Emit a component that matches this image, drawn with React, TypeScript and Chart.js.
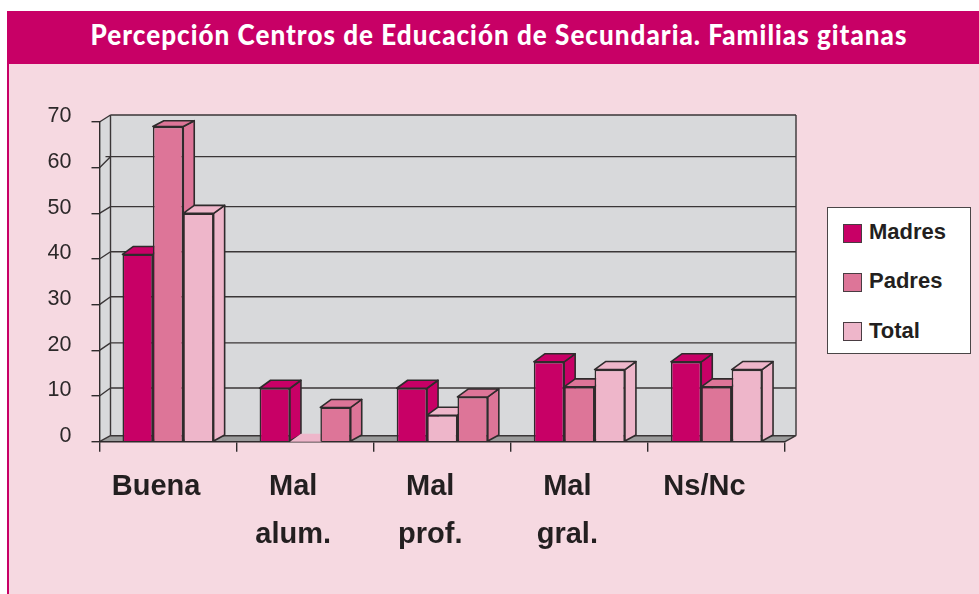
import React, { useEffect, useRef } from "react";
import { Chart, registerables } from "chart.js";

Chart.register(...registerables);

const TITLE = "Percepción Centros de Educación de Secundaria. Familias gitanas";
const categories = [["Buena"], ["Mal", "alum."], ["Mal", "prof."], ["Mal", "gral."], ["Ns/Nc"]];
const seriesNames = ["Madres", "Padres", "Total"];
const madres = [41, 11.7, 11.7, 17.5, 17.5];
const padres = [69, 0, 5.8, 12, 12];
const total = [50, 7.5, 9.8, 15.8, 15.8];

const MAGENTA = "#c80066";
const ROSE = "#dd7598";
const BLUSH = "#eeb6ca";
const INK = "#2f2b2c";
const madresColors = [MAGENTA, MAGENTA, MAGENTA, MAGENTA, MAGENTA];
const padresColors = [ROSE, BLUSH, BLUSH, ROSE, ROSE];
const totalColors = [BLUSH, ROSE, ROSE, BLUSH, BLUSH];
const legendColors = [MAGENTA, ROSE, BLUSH];

const DEPTH_X = 11;
const DEPTH_Y = 8;
const BASE_DEPTH_Y = 6;
const TOP_LIMIT = 120.7;
// how far each wall gridline rises from its front tick
const wallRise: Record<number, number> = { 0: 6, 10: 8, 20: 7.5, 30: 7.9, 40: 7.3, 50: 6.7, 60: 11, 70: 7 };

function poly(ctx: CanvasRenderingContext2D, pts: number[][], fill: string, stroke: boolean) {
  ctx.beginPath();
  pts.forEach((p, i) => (i ? ctx.lineTo(p[0], p[1]) : ctx.moveTo(p[0], p[1])));
  ctx.closePath();
  ctx.fillStyle = fill;
  ctx.fill();
  if (stroke) {
    ctx.strokeStyle = INK;
    ctx.lineWidth = 1.6;
    ctx.lineJoin = "round";
    ctx.stroke();
  }
}

const wallPlugin = {
  id: "wall",
  beforeDraw(chart: any) {
    const { ctx, scales } = chart;
    const y = scales.y;
    const L = scales.x.left;
    const R = scales.x.right;
    const y0 = y.getPixelForValue(0);
    const y70 = y.getPixelForValue(70);
    ctx.save();
    poly(ctx, [[L, y70], [L + DEPTH_X, y70 - wallRise[70]], [L + DEPTH_X, y0 - wallRise[0]], [L, y0]], "#d8d9db", false);
    poly(ctx, [[L + DEPTH_X, y70 - wallRise[70]], [R + DEPTH_X, y70 - wallRise[70]], [R + DEPTH_X, y0 - wallRise[0]], [L + DEPTH_X, y0 - wallRise[0]]], "#d8d9db", false);
    poly(ctx, [[L, y0], [L + DEPTH_X, y0 - wallRise[0]], [R + DEPTH_X, y0 - wallRise[0]], [R, y0]], "#9a9b9b", false);
    ctx.strokeStyle = "#3a3637";
    ctx.lineWidth = 1.4;
    ctx.beginPath();
    for (const t of y.ticks) {
      const py = y.getPixelForValue(t.value);
      const rise = wallRise[t.value] ?? DEPTH_Y;
      ctx.moveTo(L, py);
      ctx.lineTo(L + DEPTH_X, py - rise);
      ctx.moveTo(t.value === 60 ? L + 6 : L + DEPTH_X, py - rise);
      ctx.lineTo(R + DEPTH_X, py - rise);
    }
    ctx.moveTo(L + DEPTH_X, y70 - wallRise[70]);
    ctx.lineTo(L + DEPTH_X, y0 - wallRise[0]);
    ctx.moveTo(R + DEPTH_X, y70 - wallRise[70]);
    ctx.lineTo(R + DEPTH_X, y0 - wallRise[0]);
    ctx.moveTo(R, y0);
    ctx.lineTo(R + DEPTH_X, y0 - wallRise[0]);
    ctx.stroke();
    ctx.restore();
  },
  beforeDatasetsDraw(chart: any) {
    const { ctx } = chart;
    ctx.save();
    chart.data.datasets.forEach((ds: any, di: number) => {
      const meta = chart.getDatasetMeta(di);
      meta.data.forEach((bar: any, i: number) => {
        const p = bar.getProps(["x", "y", "base", "width"], true);
        const left = p.x - p.width / 2;
        const right = p.x + p.width / 2;
        const color = ds.backgroundColor[i];
        const solid = ds.data[i] > 0;
        const rise = Math.min(DEPTH_Y, p.y - TOP_LIMIT);
        poly(ctx, [[right, p.y], [right + DEPTH_X, p.y - rise], [right + DEPTH_X, p.base - BASE_DEPTH_Y], [right, p.base]], color, solid);
        poly(ctx, [[left, p.y], [left + DEPTH_X, p.y - rise], [right + DEPTH_X, p.y - rise], [right, p.y]], color, solid);
        if (solid) bar.draw(ctx);
      });
    });
    ctx.restore();
    return false;
  },
};

export default function App() {
  const ref = useRef<HTMLCanvasElement>(null);
  useEffect(() => {
    document.body.style.margin = "0";
    const series = [madres, padres, total];
    const colors = [madresColors, padresColors, totalColors];
    const chart = new Chart(ref.current as HTMLCanvasElement, {
      type: "bar",
      data: {
        labels: categories as any,
        datasets: seriesNames.map((name, i) => ({
          label: name,
          data: series[i],
          backgroundColor: colors[i],
          borderColor: INK,
          borderWidth: 1.6,
        })),
      },
      options: {
        responsive: false,
        animation: false,
        events: [],
        layout: { padding: { left: 0, top: 122, right: 194, bottom: 0 } },
        plugins: { legend: { display: false }, title: { display: false }, tooltip: { enabled: false } },
        datasets: { bar: { categoryPercentage: 0.665, barPercentage: 1 } },
        scales: {
          x: {
            afterFit(s: any) { s.height = 152.3; },
            border: { color: INK, width: 1.4 },
            grid: { display: true, drawOnChartArea: false, drawTicks: true, tickLength: 10, color: INK, lineWidth: 1.4 },
            ticks: {
              color: "#231f20",
              maxRotation: 0,
              padding: 11.5,
              labelOffset: -12,
              font: { family: "'Liberation Sans'", size: 29, weight: "bold", lineHeight: 1.655 },
            },
          },
          y: {
            min: 0,
            max: 70,
            afterFit(s: any) { s.width = 99.5; },
            border: { color: INK, width: 1.4 },
            grid: { display: true, drawOnChartArea: false, drawTicks: true, tickLength: 8, color: INK, lineWidth: 1.4 },
            ticks: {
              stepSize: 10,
              color: "#2c2829",
              padding: 20,
              labelOffset: -5.5,
              font: { family: "'Liberation Sans'", size: 21.5 },
            },
          },
        },
      } as any,
      plugins: [wallPlugin as any],
    });
    return () => chart.destroy();
  }, []);

  return (
    <div style={{ position: "absolute", left: 0, top: 0, width: 979, height: 594, background: "#fff", overflow: "hidden" }}>
      <div style={{ position: "absolute", left: 7, top: 64, width: 972, height: 530, background: "#f6d9e1", borderLeft: `2px solid ${MAGENTA}`, boxSizing: "border-box" }} />
      <div style={{ position: "absolute", left: 7, top: 11, width: 972, height: 53, background: MAGENTA }}>
        <div
          style={{
            position: "absolute", left: 492, top: 0, transform: "translateX(-50%) scaleX(0.93)", color: "#fff",
            fontFamily: "Lato, sans-serif", fontWeight: 900, fontSize: 28,
            letterSpacing: 1.1, lineHeight: "47px", whiteSpace: "nowrap",
          }}
        >
          {TITLE}
        </div>
      </div>
      <canvas ref={ref} width={979} height={594} style={{ position: "absolute", left: 0, top: 0, display: "block" }} />
      <div style={{ position: "absolute", left: 827, top: 207, width: 144, height: 147, background: "#fff", border: "1.4px solid #4a4647", boxSizing: "border-box" }}>
        {seriesNames.map((name, i) => (
          <div key={name} style={{ position: "absolute", left: 15, top: 15 + i * 49.3, height: 20, display: "flex", alignItems: "center" }}>
            <span style={{ width: 19, height: 19, background: legendColors[i], border: "1.4px solid #4a3c42", boxSizing: "border-box", display: "inline-block" }} />
            <span style={{ marginLeft: 7, fontFamily: "'Liberation Sans'", fontWeight: "bold", fontSize: 22, color: "#231f20", lineHeight: "20px", position: "relative", top: -1 }}>{name}</span>
          </div>
        ))}
      </div>
    </div>
  );
}
